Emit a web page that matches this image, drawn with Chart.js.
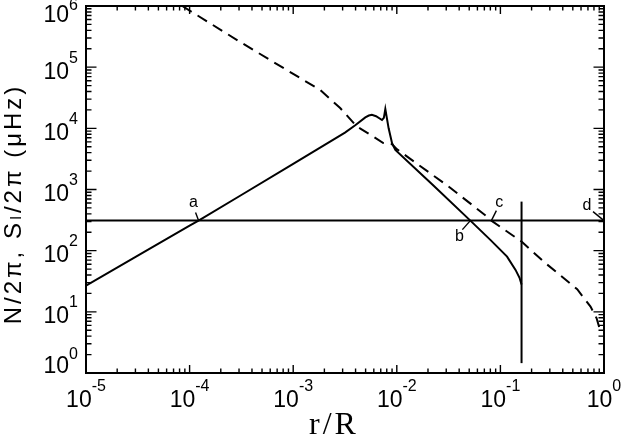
<!DOCTYPE html>
<html><head><meta charset="utf-8">
<script src="https://cdn.jsdelivr.net/npm/chart.js@4.4.0/dist/chart.umd.min.js"></script>
<style>html,body{margin:0;padding:0;background:#fff}canvas{display:block}</style>
</head><body>
<canvas id="c" width="622" height="442"></canvas>
<script>
// Buoyancy frequency N/2pi (solid line)
const nRadius = [1e-5, 3.16e-5, 1.0e-4, 1.22e-4, 3.16e-4, 1.0e-3, 3.16e-3, 3.97e-3, 4.97e-3, 5.37e-3, 5.75e-3, 6.31e-3, 7.2e-3, 7.5e-3, 7.75e-3, 8.34e-3, 9.0e-3, 9.68e-3, 0.0227, 0.0513, 0.080, 0.116, 0.140, 0.153, 0.160];
const nFreq   = [26.9, 83, 257, 310, 813, 2630, 8510, 11200, 15100, 16200, 16600, 15800, 13700, 14800, 20700, 10000, 5700, 4440, 1150, 310, 150, 80, 48.5, 36, 28];
// Lamb frequency S_l/2pi (dashed line)
const sRadius = [8.5e-5, 3.16e-4, 1.0e-3, 1.82e-3, 2.84e-3, 4.12e-3, 5.93e-3, 7.41e-3, 9.0e-3, 0.010, 0.0316, 0.0743, 0.0818, 0.160, 0.262, 0.551, 0.741, 0.847, 0.933];
const sFreq   = [1.0e6, 2.51e5, 7.76e4, 4.24e4, 2.15e4, 1.07e4, 7330, 5750, 5500, 4570, 1120, 360, 310, 141, 66, 23.4, 12.2, 7.9, 4.5];
// Mode frequency (horizontal line) and base of convection zone (vertical line)
const modeFreq = 310;
const lineRadius = [1e-5, 1.0];
const bczRadius = 0.16;
const bczFreq = [1.45, 634];
// Turning-point markers
const markLabels = ['a', 'b', 'c', 'd'];
const markRadius = [1.22e-4, 0.0513, 0.0818, 1.0];
// Axis ticks: labels are 10 raised to these exponents
const tickBase = '10';
const xTickValues = [1e-5, 1e-4, 1e-3, 1e-2, 1e-1, 1];
const xTickExponents = ['-5', '-4', '-3', '-2', '-1', '0'];
const yTickValues = [1, 10, 100, 1e3, 1e4, 1e5, 1e6];
const yTickExponents = ['0', '1', '2', '3', '4', '5', '6'];
const xTitle = 'r/R';
const yTitle = 'N/2π, Sₗ/2π (μHz)';

// label styling (pixel offsets from the marked point)
const markStyle = {
  a: {lead: [-3, -8], text: [-5, -18]},
  b: {lead: [-8, 9], text: [-11, 16]},
  c: {lead: [5, -10], text: [8, -18]},
  d: {lead: [-11, -9], text: [-17, -15]}
};

const SANS = "'Liberation Sans', Arial, 'DejaVu Sans', sans-serif";
const SERIF = "'Liberation Serif', 'Times New Roman', serif";

const zip = (xs, ys) => xs.map((x, i) => ({x, y: ys[i]}));

const spacing = {
  id: 'spacing',
  beforeDraw(chart) { chart.ctx.letterSpacing = '3px'; }
};

const frameTicks = {
  id: 'frameTicks',
  afterDraw(chart) {
    const {ctx, chartArea: a, scales: {x, y}} = chart;
    const vals = (s) => {
      const out = [];
      const lo = Math.floor(Math.log10(s.min)), hi = Math.ceil(Math.log10(s.max));
      for (let d = lo; d <= hi; d++) for (let k = 1; k <= 9; k++) {
        const v = k * Math.pow(10, d);
        if (v >= s.min * 0.999 && v <= s.max * 1.001) out.push({v, major: k === 1});
      }
      return out;
    };
    ctx.save();
    ctx.letterSpacing = '0px';
    ctx.strokeStyle = '#000';
    ctx.lineWidth = 1.4;
    ctx.beginPath();
    for (const t of vals(x)) {
      const p = x.getPixelForValue(t.v);
      const L = t.major ? 8 : 4.5;
      ctx.moveTo(p, a.bottom); ctx.lineTo(p, a.bottom - L);
      ctx.moveTo(p, a.top); ctx.lineTo(p, a.top + L);
    }
    for (const t of vals(y)) {
      const p = y.getPixelForValue(t.v);
      const L = t.major ? 10.5 : 5.5;
      ctx.moveTo(a.left, p); ctx.lineTo(a.left + L, p);
      ctx.moveTo(a.right, p); ctx.lineTo(a.right - L, p);
    }
    ctx.stroke();
    ctx.lineWidth = 2;
    ctx.strokeRect(a.left, a.top, a.right - a.left, a.bottom - a.top);

    // tick labels: 10 with superscript exponent
    const baseFont = "23px " + SANS, expFont = "16px " + SANS;
    ctx.fillStyle = '#000';
    ctx.textBaseline = 'alphabetic';
    ctx.textAlign = 'left';
    xTickValues.forEach((v, i) => {
      const p = x.getPixelForValue(v);
      ctx.font = baseFont; const bw = ctx.measureText(tickBase).width;
      ctx.font = expFont; const ew = ctx.measureText(xTickExponents[i]).width;
      const x0 = p - (bw + ew) / 2;
      const by = a.bottom + 34;
      ctx.font = baseFont; ctx.fillText(tickBase, x0, by);
      ctx.font = expFont; ctx.fillText(xTickExponents[i], x0 + bw, by - 16.5);
    });
    const rx = a.left - 8;
    yTickValues.forEach((v, i) => {
      const p = y.getPixelForValue(v);
      let off = 11.5, raise = 16;
      if (i === 0) { off = 0; raise = 14; }
      if (i === yTickValues.length - 1) { off = 16; raise = 12; }
      ctx.font = expFont; const ew = ctx.measureText(yTickExponents[i]).width;
      ctx.font = baseFont; const bw = ctx.measureText(tickBase).width;
      const by = p + off;
      ctx.font = baseFont; ctx.fillText(tickBase, rx - ew - bw, by);
      ctx.font = expFont; ctx.fillText(yTickExponents[i], rx - ew, by - raise);
    });

    // markers a-d
    ctx.lineWidth = 1.4;
    ctx.font = "16px " + SANS;
    ctx.textAlign = 'center';
    ctx.textBaseline = 'middle';
    markLabels.forEach((lab, i) => {
      const px = x.getPixelForValue(markRadius[i]);
      const py = y.getPixelForValue(modeFreq);
      const st = markStyle[lab];
      ctx.beginPath();
      ctx.moveTo(px, py);
      ctx.lineTo(px + st.lead[0], py + st.lead[1]);
      ctx.stroke();
      ctx.fillText(lab, px + st.text[0], py + st.text[1]);
    });
    ctx.restore();
  }
};

new Chart(document.getElementById('c'), {
  type: 'scatter',
  data: {
    datasets: [
      {data: zip(nRadius, nFreq), showLine: true, borderColor: '#000', borderWidth: 2, pointRadius: 0, tension: 0},
      {data: zip(sRadius, sFreq), showLine: true, borderColor: '#000', borderWidth: 2, borderDash: [11, 7], pointRadius: 0, tension: 0},
      {data: zip(lineRadius, [modeFreq, modeFreq]), showLine: true, borderColor: '#000', borderWidth: 2, pointRadius: 0},
      {data: zip([bczRadius, bczRadius], bczFreq), showLine: true, borderColor: '#000', borderWidth: 2, pointRadius: 0}
    ]
  },
  options: {
    responsive: false,
    animation: false,
    events: [],
    layout: {padding: {left: 0, top: 6, right: 18, bottom: 0}},
    plugins: {legend: {display: false}, tooltip: {enabled: false}},
    scales: {
      x: {
        type: 'logarithmic',
        min: 1e-5, max: 1,
        grid: {display: false, drawTicks: false},
        border: {display: false},
        afterBuildTicks: (s) => { s.ticks = xTickValues.map(v => ({value: v})); },
        afterFit: (s) => { s.height = 69; s.paddingLeft = 0; s.paddingRight = 0; },
        ticks: {display: false},
        title: {display: true, text: xTitle + '  ', color: '#000', padding: {top: 0, bottom: 0},
                font: {family: SERIF, size: 32, lineHeight: 1}}
      },
      y: {
        type: 'logarithmic',
        min: 1, max: 1e6,
        grid: {display: false, drawTicks: false},
        border: {display: false},
        afterBuildTicks: (s) => { s.ticks = yTickValues.map(v => ({value: v})); },
        afterFit: (s) => { s.width = 86; s.paddingTop = 0; s.paddingBottom = 0; },
        ticks: {display: false},
        title: {display: true, text: yTitle + '   ', color: '#000', padding: {top: 0, bottom: 0},
                font: {family: SANS, size: 24}}
      }
    }
  },
  plugins: [spacing, frameTicks]
});
</script>
</body></html>
